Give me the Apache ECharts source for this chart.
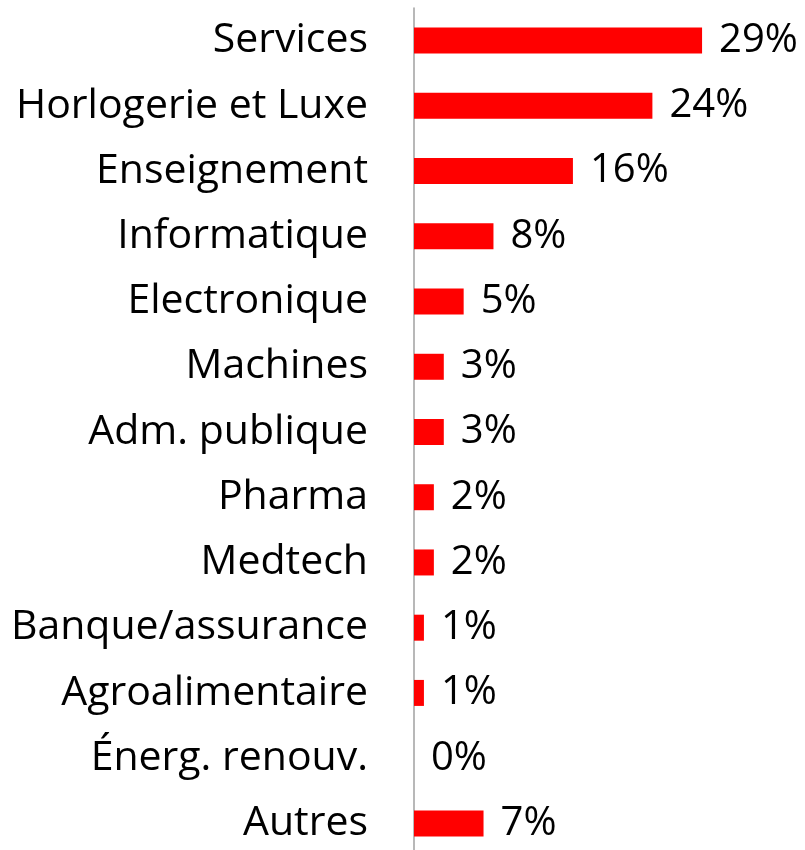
<!DOCTYPE html>
<html>
<head>
<meta charset="utf-8">
<script src="https://cdn.jsdelivr.net/npm/echarts@6/dist/echarts.min.js"></script>
<style>
html, body { margin: 0; padding: 0; background: #fff; }
#chart { width: 805px; height: 850px; }
</style>
</head>
<body>
<div id="chart"></div>
<script>
var categories = ['Services', 'Horlogerie et Luxe', 'Enseignement', 'Informatique', 'Electronique',
	'Machines', 'Adm. publique', 'Pharma', 'Medtech', 'Banque/assurance', 'Agroalimentaire',
	'Énerg. renouv.', 'Autres'];
var shares = [29, 24, 16, 8, 5, 3, 3, 2, 2, 1, 1, 0, 7];

var fontName = 'Open Sans';
var chart = echarts.init(document.getElementById('chart'));
var option = {
	animation: false,
	grid: {
		left: 414,
		top: 8,
		width: 298,
		height: 848,
		outerBoundsMode: 'none'
	},
	xAxis: {
		type: 'value',
		min: 0,
		max: 30,
		show: false
	},
	yAxis: {
		type: 'category',
		data: categories,
		inverse: true,
		axisTick: { show: false },
		axisLine: {
			lineStyle: { color: '#a0a0a0', width: 1.5 }
		},
		axisLabel: {
			margin: 46,
			color: '#000',
			fontFamily: fontName,
			fontSize: 41
		}
	},
	series: [{
		type: 'bar',
		data: shares,
		barWidth: 26,
		itemStyle: { color: '#ff0000' },
		label: {
			show: true,
			position: 'right',
			distance: 17,
			color: '#000',
			fontFamily: fontName,
			fontSize: 40,
			formatter: '{c}%'
		}
	}]
};
chart.setOption(option);
</script>
</body>
</html>
